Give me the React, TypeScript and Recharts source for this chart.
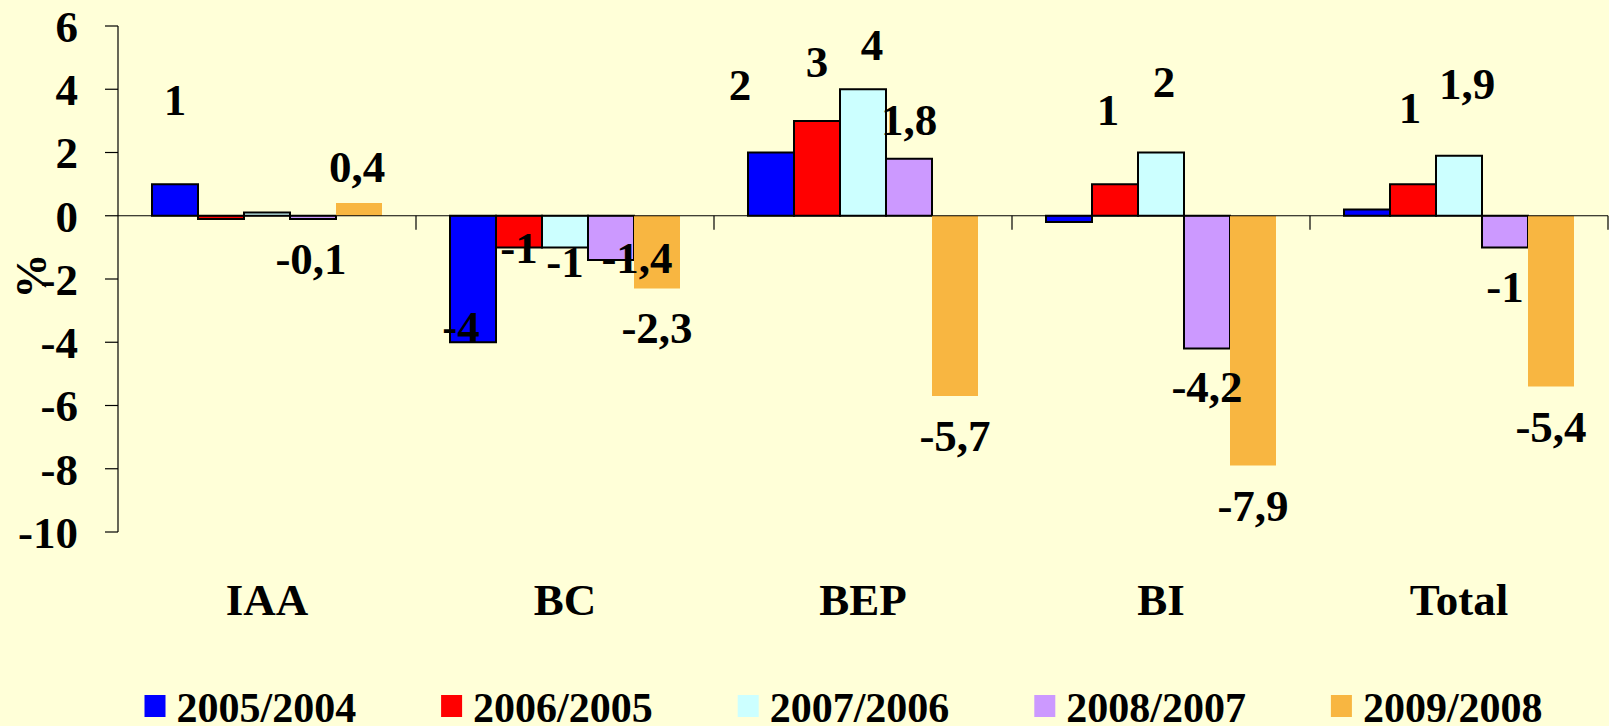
import React from 'react';
import { BarChart, Bar, XAxis, YAxis, ReferenceLine, Legend, LabelList } from 'recharts';

const categories = ['IAA', 'BC', 'BEP', 'BI', 'Total'];
const v2005 = [1, -4, 2, -0.2, 0.2];
const v2006 = [-0.1, -1, 3, 1, 1];
const v2007 = [0.1, -1, 4, 2, 1.9];
const v2008 = [-0.1, -1.4, 1.8, -4.2, -1];
const v2009 = [0.4, -2.3, -5.7, -7.9, -5.4];
const seriesNames = ['2005/2004', '2006/2005', '2007/2006', '2008/2007', '2009/2008'];
const yTicks = [-10, -8, -6, -4, -2, 0, 2, 4, 6];
const hiddenLabels = ['IAA|s2', 'IAA|s3', 'BI|s1', 'Total|s1'];

const seriesValues = [v2005, v2006, v2007, v2008, v2009];
const seriesKeys = ['s1', 's2', 's3', 's4', 's5'];

const data = categories.map((c, i) => {
  const row: any = { category: c };
  seriesKeys.forEach((k, j) => {
    row[k] = seriesValues[j][i];
  });
  return row;
});

const FONT = '"Liberation Serif", "Times New Roman", serif';
const BG = '#FFFFD8';
const COLORS = ['#0000FF', '#FF0000', '#CCFFFF', '#CC99FF', '#F8B641'];
const STROKES = ['#000', '#000', '#000', '#000', 'none'];

// label nudges [dx, dy] relative to default placement
const NUDGE: Record<string, [number, number]> = {
  'IAA|s1': [0, -14],
  'IAA|s4': [-2, 0],
  'IAA|s5': [-2, 34],
  'BC|s1': [-12, -55],
  'BC|s2': [0, -39],
  'BC|s3': [0, -25],
  'BC|s4': [26, -42],
  'BEP|s1': [-31, 2],
  'BEP|s2': [0, 11],
  'BEP|s3': [9, 26],
  'BEP|s4': [0, 31],
  'BI|s2': [-7, -4],
  'BI|s3': [3, -1],
  'BI|s4': [0, -2],
  'Total|s2': [-3, -6],
  'Total|s3': [8, -2],
};

const fmt = (v: number) => String(v).replace('.', ',');

const makeLabel = (key: string) => (props: any) => {
  const vb = props.viewBox && props.viewBox.width !== undefined ? props.viewBox : props;
  const { x, y, width, height } = vb;
  const { value, index } = props;
  const cat = categories[index];
  const id = `${cat}|${key}`;
  if (hiddenLabels.includes(id)) return null;
  const top = Math.min(y, y + height);
  const bottom = Math.max(y, y + height);
  const cx = x + width / 2;
  const n = NUDGE[id] || [0, 0];
  const center = value >= 0 ? top - 70 : bottom + 40;
  return (
    <text
      x={cx + n[0]}
      y={center + n[1] + 15}
      textAnchor="middle"
      fontFamily={FONT}
      fontWeight="bold"
      fontSize={45}
      fill="#000"
    >
      {fmt(value)}
    </text>
  );
};

const CatTick = (props: any) => {
  const { x, y, payload } = props;
  return (
    <text x={x} y={y + 83} textAnchor="middle" fontFamily={FONT} fontWeight="bold" fontSize={45} fill="#000">
      {payload.value}
    </text>
  );
};

const ZeroLine = (props: any) => {
  const { x1, y1, x2 } = props;
  const n = categories.length;
  const step = (x2 - x1) / n;
  const ticks = [];
  for (let k = 1; k <= n; k++) ticks.push(x1 + step * k);
  return (
    <g>
      <line x1={x1} y1={y1} x2={x2} y2={y1} stroke="#000" strokeWidth={1.2} />
      {ticks.map((tx, i) => (
        <line key={i} x1={tx} y1={y1} x2={tx} y2={y1 + 14} stroke="#000" strokeWidth={1.2} />
      ))}
    </g>
  );
};

const renderLegend = () => (
  <svg width={1609} height={60} style={{ display: 'block' }}>
    {seriesNames.map((name, i) => {
      const lx = 144.5 + i * 296.6;
      return (
        <g key={name}>
          <rect x={lx} y={29} width={21} height={22} fill={COLORS[i]} />
          <text x={lx + 32} y={56} fontFamily={FONT} fontWeight="bold" fontSize={42} fill="#000">
            {name}
          </text>
        </g>
      );
    })}
  </svg>
);

const YLabel = (props: any) => {
  const vb = props.viewBox || { x: 0, y: 0, width: 0, height: 0 };
  const cx = vb.x + 31;
  const cy = vb.y + vb.height / 2 - 3;
  return (
    <text
      x={cx}
      y={cy}
      transform={`rotate(-90, ${cx}, ${cy})`}
      textAnchor="middle"
      dominantBaseline="central"
      fontFamily={FONT}
      fontWeight="bold"
      fontSize={45}
      fill="#000"
    >
      %
    </text>
  );
};

export default function App() {
  return (
    <div style={{ position: 'absolute', left: 0, top: 0, width: 1609, height: 726, background: BG, overflow: 'hidden' }}>
      <BarChart
        width={1609}
        height={726}
        data={data}
        margin={{ top: 26, right: 1, bottom: 0, left: 0 }}
        barCategoryGap={34}
        barGap={0}
      >
        <XAxis
          dataKey="category"
          axisLine={false}
          tickLine={false}
          tickSize={0}
          tickMargin={0}
          interval={0}
          height={134}
          tick={<CatTick />}
        />
        <YAxis
          domain={[-10, 6]}
          ticks={yTicks}
          allowDataOverflow
          width={118}
          tickSize={13}
          tickMargin={27}
          axisLine={{ stroke: '#000', strokeWidth: 1.2 }}
          tickLine={{ stroke: '#000', strokeWidth: 1.2 }}
          tick={{ fontFamily: FONT, fontWeight: 'bold', fontSize: 45, fill: '#000' }}
          label={<YLabel />}
        />
        <Legend
          verticalAlign="bottom"
          align="left"
          height={60}
          wrapperStyle={{ left: 0, bottom: 0, width: 1609, height: 60 }}
          content={renderLegend}
        />
        {seriesKeys.map((k, i) => (
          <Bar
            key={k}
            dataKey={k}
            name={seriesNames[i]}
            fill={COLORS[i]}
            stroke={STROKES[i]}
            strokeWidth={2}
            isAnimationActive={false}
          >
            <LabelList dataKey={k} content={makeLabel(k)} />
          </Bar>
        ))}
        <ReferenceLine y={0} shape={(p: any) => <ZeroLine {...p} />} />
      </BarChart>
    </div>
  );
}
